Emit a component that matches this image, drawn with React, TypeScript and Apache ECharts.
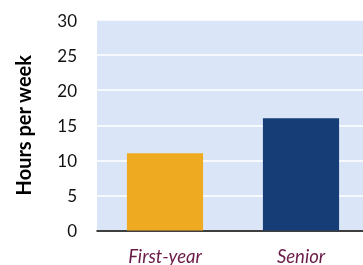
import React, { useEffect, useRef } from "react";
import * as echarts from "echarts";

const categories = ["First-year", "Senior"];
const values = [11, 16];
const barColors = ["#EEAB22", "#173D77"];
const yTicks = [0, 5, 10, 15, 20, 25, 30];

export default function App() {
  const ref = useRef<HTMLDivElement>(null);
  useEffect(() => {
    const chart = echarts.init(ref.current!, null, { renderer: "svg" });
    chart.setOption({
      animation: false,
      grid: {
        left: 97,
        top: 20,
        bottom: 34,
        right: 0,
        show: true,
        backgroundColor: "#DAE5F7",
        borderWidth: 0,
      },
      xAxis: {
        type: "category",
        data: categories,
        axisLine: { show: true, lineStyle: { color: "#000", width: 1.5 } },
        axisTick: { show: false },
        axisLabel: {
          fontStyle: "italic",
          fontSize: 18.5,
          lineHeight: 16,
          color: "#6A1B47",
          margin: 17,
          fontFamily: "Lato",
        },
      },
      yAxis: {
        type: "value",
        min: yTicks[0],
        max: yTicks[yTicks.length - 1],
        interval: 5,
        name: "Hours per week",
        nameLocation: "middle",
        nameGap: 64,
        nameTextStyle: {
          fontWeight: "bold",
          fontSize: 20,
          color: "#000",
          fontFamily: "Lato",
        },
        axisLine: { show: false },
        axisTick: { show: false },
        axisLabel: {
          fontSize: 17,
          color: "#111",
          margin: 20,
          fontFamily: "Lato",
        },
        splitLine: { show: true, lineStyle: { color: "#FFFFFF", width: 1.5 } },
      },
      series: [
        {
          type: "bar",
          barWidth: "56%",
          data: values.map((v, i) => ({ value: v, itemStyle: { color: barColors[i] } })),
        },
      ],
    });
    return () => chart.dispose();
  }, []);
  return (
    <div
      ref={ref}
      style={{ position: "fixed", left: 0, top: 0, width: 369, height: 265 }}
    />
  );
}
